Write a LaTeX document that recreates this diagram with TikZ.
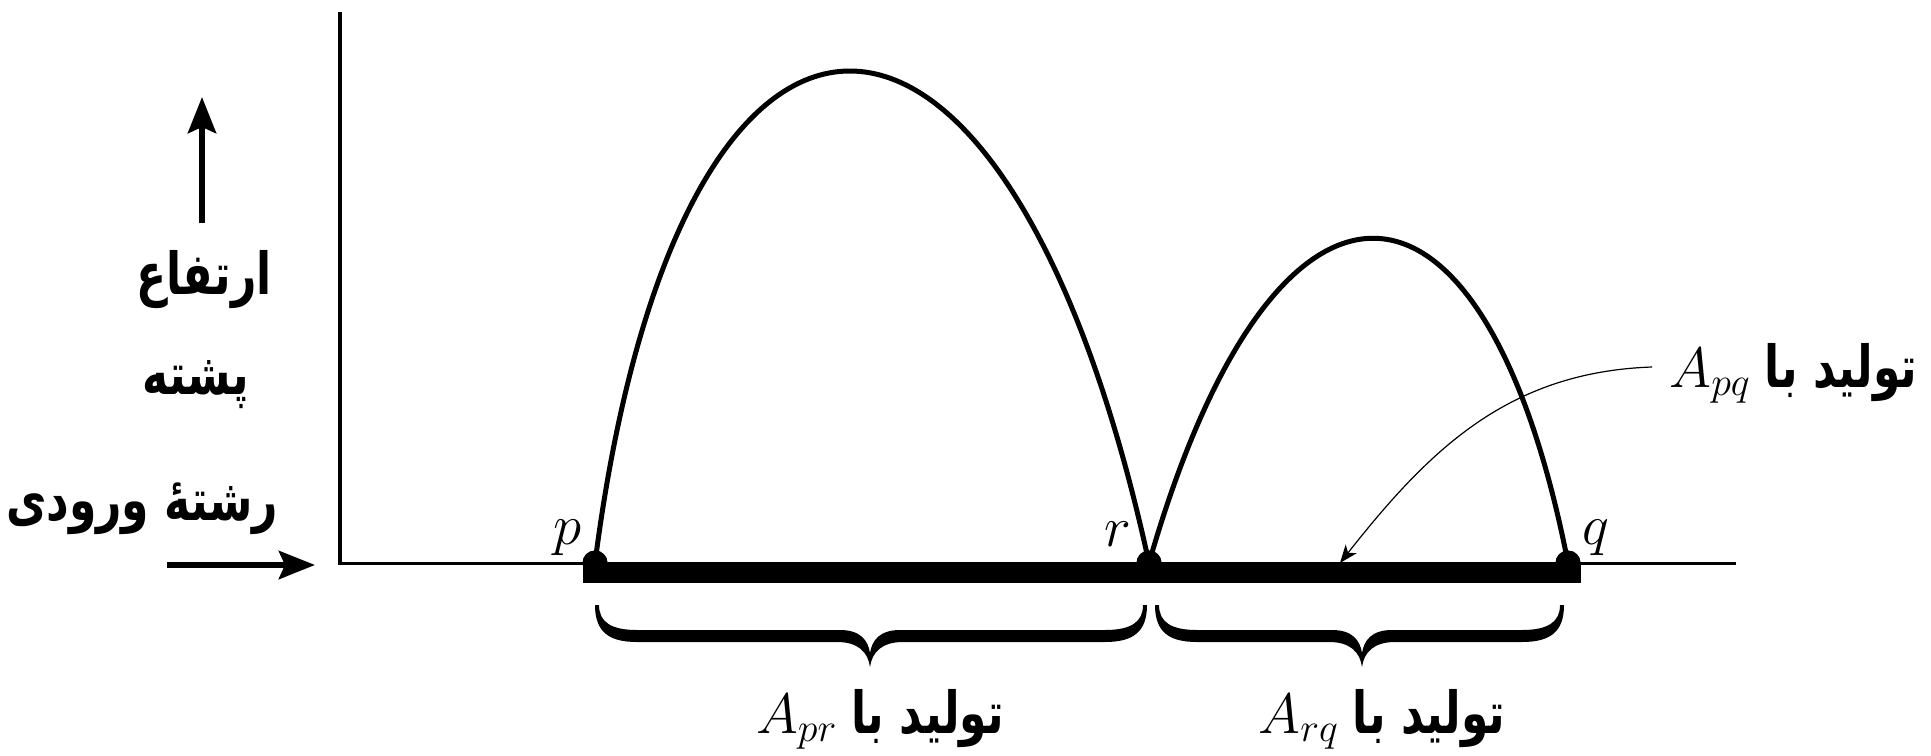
\RequirePackage{fix-cm}
\documentclass[tikz,border=0pt]{standalone}
\usepackage{fontspec}
\newfontfamily\fa[Script=Arabic,FakeStretch=0.76]{DejaVu Sans}
\TeXXeTstate=1
\usetikzlibrary{arrows.meta,calc}
\newcommand{\falabel}[1]{{\fa\bfseries\fontsize{29}{34}\selectfont\beginR #1\endR}}
\newcommand{\mlabel}[1]{{\fontsize{28.5}{34}\selectfont$#1$}}
\newcommand{\tbrace}[3]{%
  \fill (#1-2,605) .. controls (#1-2,632) and (#1+12,642) .. (#1+40,642)
    -- (#2-33,642) .. controls (#2-12,642) and (#2-2,652) .. (#2,667)
    .. controls (#2+2,652) and (#2+12,642) .. (#2+33,642)
    -- (#3-40,642) .. controls (#3-12,642) and (#3+2,632) .. (#3+2,605)
    -- (#3-2,605) .. controls (#3-2,622) and (#3-14,630) .. (#3-40,630)
    -- (#2+30,630) .. controls (#2+10,630) and (#2+2,640) .. (#2,653)
    .. controls (#2-2,640) and (#2-10,630) .. (#2-30,630)
    -- (#1+40,630) .. controls (#1+14,630) and (#1+2,622) .. (#1+2,605) -- cycle;}
\begin{document}
\begin{tikzpicture}[x=0.5pt,y=-0.5pt,
  yaxisline/.style={line width=2pt},
  xaxisline/.style={line width=1.5pt},
  bigarrow/.style={line width=3.2pt,-{Stealth[length=18pt,width=14pt,inset=3pt]}},
  arcline/.style={line width=2.5pt},
  dotnode/.style={circle,fill=black,inner sep=0pt,minimum size=12.5pt},
  thinarrow/.style={line width=0.6pt,-{Stealth[length=9pt,width=7pt,inset=2.5pt]}},
  lbl/.style={inner sep=0pt}]
\useasboundingbox (0,0) rectangle (1931,755);
% axes
\coordinate (ytop) at (340,12);
\coordinate (o) at (340,563);
\coordinate (xend) at (1736,563);
\draw[yaxisline] (ytop) -- ($(o)+(0,1)$);
\draw[xaxisline] ($(o)+(-2,0)$) -- (xend);
% points
\node[dotnode] (p) at (595,563) {};
\node[dotnode] (r) at (1149,563) {};
\node[dotnode] (q) at (1568,563) {};
\fill ($(p)+(-12,0)$) rectangle ($(q)+(13,20)$);
% arcs
\draw[arcline] (p.center) .. controls +(84,-656) and +(-143,-656) .. (r.center);
\draw[arcline] (r.center) .. controls +(124,-433) and +(-85,-433) .. (q.center);
\node[dotnode] at (p) {};
\node[dotnode] at (r) {};
\node[dotnode] at (q) {};
% side arrows
\coordinate (va) at (202,223);
\coordinate (vb) at (202,97);
\draw[bigarrow] (va) -- (vb);
\coordinate (ha) at (167,565);
\coordinate (hb) at (315,565);
\draw[bigarrow] (ha) -- (hb);
% side texts
\node[lbl] (t1) at (204,280) {\falabel{ارتفاع}};
\node[lbl] (t2) at (196,385) {\falabel{پشته}};
\node[lbl] (t3) at (142,509) {\falabel{رشتهٔ ورودی}};
% point labels
\node[lbl] (lp) at (567,538) {\mlabel{p}};
\node[lbl] (lr) at (1118,534) {\mlabel{r}};
\node[lbl] (lq) at (1596,538) {\mlabel{q}};
% braces
\tbrace{597}{870}{1145}
\tbrace{1157}{1362}{1562}
% labels
\node[lbl,anchor=base] (lpr) at (880,733) {\mlabel{A_{pr}}\hspace{7pt}\falabel{تولید با}};
\node[lbl,anchor=base] (lrq) at (1382,733) {\mlabel{A_{rq}}\hspace{7pt}\falabel{تولید با}};
\node[lbl,anchor=base west] (lpq) at (1669,387) {\mlabel{A_{pq}}\hspace{7pt}\falabel{تولید با}};
\coordinate (tip) at (1340,563);
\draw[thinarrow] ($(lpq.base west)+(-17,-20)$) .. controls +(-144,5) and +(89,-113) .. (tip);
\end{tikzpicture}
\end{document}
